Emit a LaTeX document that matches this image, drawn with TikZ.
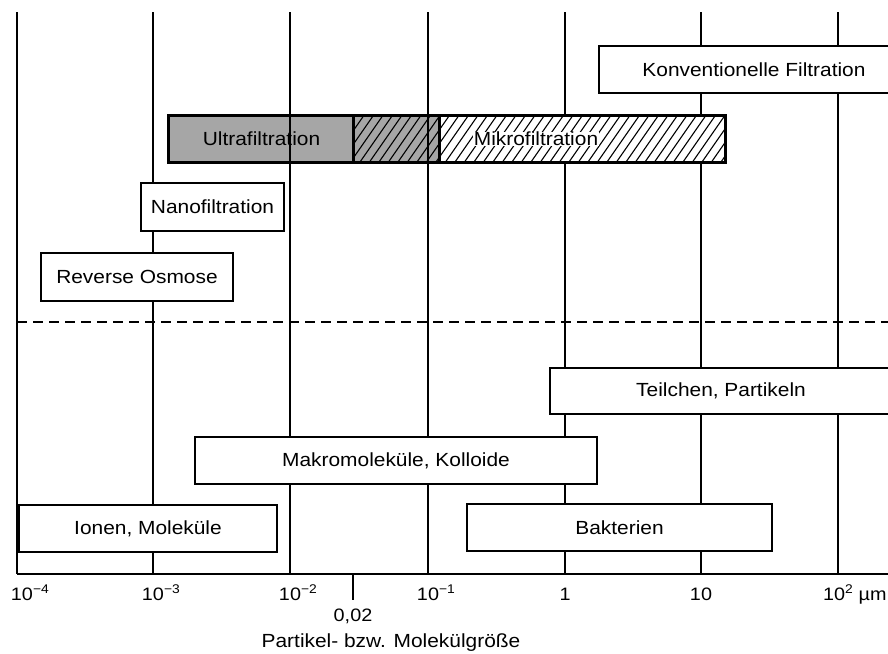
\documentclass[tikz,border=0pt]{standalone}
\usepackage{fontspec}
\setmainfont[FakeStretch=1.1]{Liberation Sans}
\usepackage{tikz}

\tikzset{
  feld/.style={draw, line width=1.8pt, fill=white, inner sep=0pt, font=\fontsize{19}{22}\selectfont},
  gitter/.style={line width=1.4pt},
  skala/.style={anchor=base, inner sep=0pt, font=\fontsize{18}{21}\selectfont},
  schraffur/.style={line width=1.1pt}
}

\begin{document}
\begin{tikzpicture}[x=1pt, y=-1pt]
			\useasboundingbox (0,0) rectangle (888,653);
			% Membranverfahren (grau):
			\node[feld, fill=black!35, minimum width=185pt, minimum height=46pt](Ultra) at (261.5,139){Ultrafiltration};
			\node[feld, fill=black!35, minimum width=86pt, minimum height=46pt](Zwischen) at (397,139){};
			% Gitter und Achse:
			\foreach \x in {17,153,290,428,565,701,838}
				\draw[gitter] (\x,12) -- (\x,574);
			\coordinate (AchseL) at (17,574);
			\coordinate (AchseR) at (888,574);
			\draw[line width=1.8pt] (AchseL) -- (AchseR);
			\coordinate (StrichO) at (353,574);
			\coordinate (StrichU) at (353,600);
			\draw[gitter] (StrichO) -- (StrichU);
			\coordinate (TrennL) at (17,322);
			\coordinate (TrennR) at (888,322);
			\draw[gitter, dash pattern=on 10pt off 6pt] (TrennL) -- (TrennR);
			% Verfahren:
			\node[feld, minimum width=310pt, minimum height=47pt](Konv) at (754,69.5){Konventionelle Filtration};
			\node[feld, minimum width=285pt, minimum height=46pt](Mikro) at (582.5,139){};
			\begin{scope}
				\clip (Zwischen.north west) rectangle (Mikro.south east);
				\foreach \i in {0,...,42}
					\draw[schraffur] (322+\i*9.5,162) -- ++(32,-46);
			\end{scope}
			\draw[line width=1.8pt] (Ultra.north west) rectangle (Mikro.south east);
			\draw[line width=1.8pt] (Zwischen.north west) -- (Zwischen.south west);
			\draw[line width=1.8pt] (Mikro.north west) -- (Mikro.south west);
			\node[fill=white, inner sep=0.5pt, font=\fontsize{19}{22}\selectfont](MikroText) at (536,139){Mikrofiltration};
			\node[feld, minimum width=143pt, minimum height=48pt](Nano) at (212.5,207){Nanofiltration};
			\node[feld, minimum width=192pt, minimum height=48pt](Osmose) at (137,277){Reverse Osmose};
			% Stoffe:
			\node[feld, minimum width=342pt, minimum height=46pt](Teilchen) at (721,391){Teilchen, Partikeln};
			\node[feld, minimum width=402pt, minimum height=47pt](Makro) at (396,460.5){Makromoleküle, Kolloide};
			\node[feld, minimum width=258pt, minimum height=47pt](Ionen) at (148,528.5){Ionen, Moleküle};
			\node[feld, minimum width=305pt, minimum height=47pt](Bakterien) at (619.5,527.5){Bakterien};
			% Beschriftung der Achse:
			\node[skala](E4) at (22,600){10\rlap{\textsuperscript{−4}}};
			\node[skala](E3) at (153,600){10\rlap{\textsuperscript{−3}}};
			\node[skala](E2) at (290,600){10\rlap{\textsuperscript{−2}}};
			\node[skala](E1) at (428,600){10\rlap{\textsuperscript{−1}}};
			\node[skala](E0) at (565,600){1};
			\node[skala](P1) at (701,600){10};
			\node[skala](P2) at (834,600){10\rlap{\textsuperscript{2} µm}};
			\node[skala](Null02) at (353,621){0,02};
			\node[skala, font=\fontsize{19}{22}\selectfont](Achsentitel) at (391,647){Partikel- bzw. Molekülgröße};
		\end{tikzpicture}
\end{document}
